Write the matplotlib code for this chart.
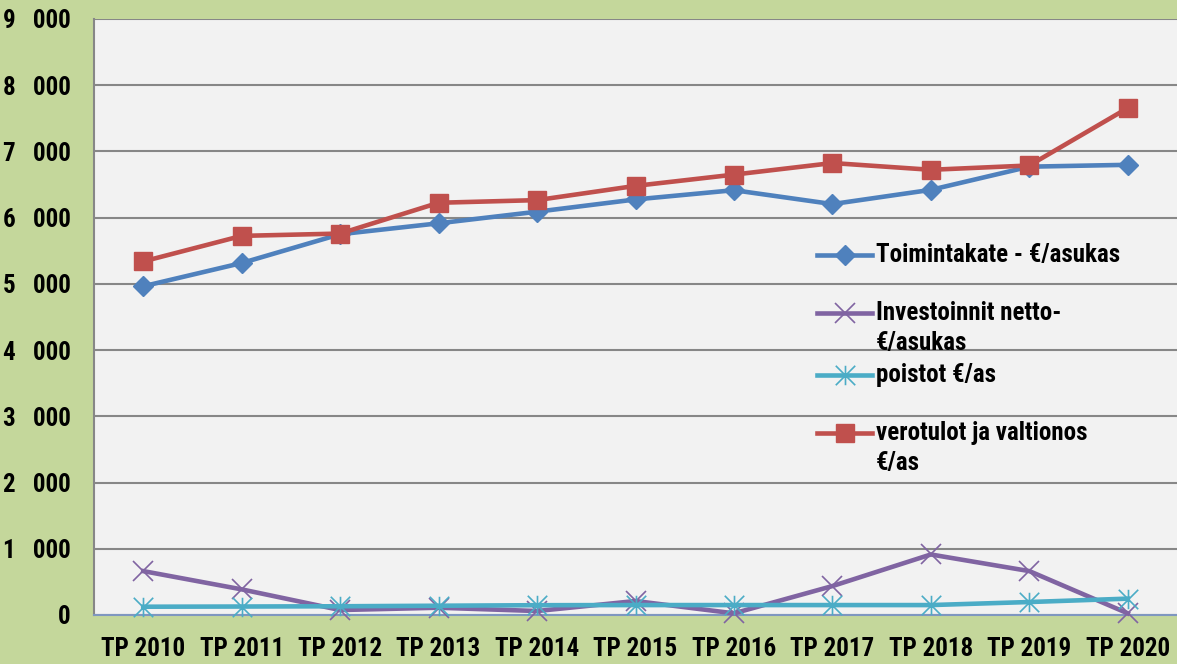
import matplotlib
matplotlib.use("Agg")
import matplotlib.pyplot as plt
from matplotlib.path import Path
import numpy as np

plt.rcParams['font.family'] = ['Liberation Sans Narrow', 'Arial Narrow', 'Roboto Condensed',
                               'DejaVu Sans']

categories = ["TP 2010", "TP 2011", "TP 2012", "TP 2013", "TP 2014", "TP 2015",
              "TP 2016", "TP 2017", "TP 2018", "TP 2019", "TP 2020"]
toimintakate = [4964, 5315, 5750, 5915, 6090, 6275, 6415, 6205, 6420, 6770, 6798]
investoinnit = [663, 387, 75, 110, 60, 211, 25, 437, 914, 663, 25]
poistot = [125, 128, 132, 140, 148, 150, 150, 150, 150, 196, 247]
verotulot = [5339, 5725, 5760, 6225, 6265, 6480, 6650, 6825, 6723, 6788, 7656]
yticks = [0, 1000, 2000, 3000, 4000, 5000, 6000, 7000, 8000, 9000]
ytick_labels = ["0", "1   000", "2   000", "3   000", "4   000", "5   000",
                "6   000", "7   000", "8   000", "9   000"]
labels = ["Toimintakate - €/asukas", "Investoinnit netto-\n€/asukas",
          "poistot €/as", "verotulot ja valtionos\n€/as"]

BLUE = "#4F81BD"
PURPLE = "#8064A2"
TEAL = "#4BACC6"
RED = "#C0504D"
BG = "#C4D79B"

# Excel-style star marker: vertical line + X
ast = Path([(0, -1), (0, 1), (-1, -1), (1, 1), (-1, 1), (1, -1)],
           [Path.MOVETO, Path.LINETO, Path.MOVETO, Path.LINETO, Path.MOVETO, Path.LINETO])

fig = plt.figure(figsize=(11.77, 6.64), dpi=100, facecolor=BG)
W, H = 1177, 664
L, R, T, B = 94, 1177, 19, 615
ax = fig.add_axes([L / W, 1 - B / H, (R - L) / W, (B - T) / H])
ax.set_facecolor("#F2F2F2")

x = np.arange(len(categories))
lw = 3.3
styles = [
    (toimintakate, BLUE, dict(marker='D', ms=9.8, mfc=BLUE, mec=BLUE)),
    (investoinnit, PURPLE, dict(marker='x', ms=14, mew=1.2, mec=PURPLE)),
    (poistot, TEAL, dict(marker=ast, ms=14, mew=1.2, mec=TEAL, mfc='none')),
    (verotulot, RED, dict(marker='s', ms=13.5, mfc=RED, mec=RED)),
]
for vals, col, mk in styles:
    ax.plot(x, vals, color=col, lw=lw, zorder=3, clip_on=False, **mk)

ax.set_xlim(-0.5, len(categories) - 0.5)
ax.set_ylim(0, 9000)
ax.set_yticks(yticks)
ax.set_yticklabels(ytick_labels)
ax.set_xticks(x)
ax.set_xticklabels(categories)
ax.yaxis.grid(True, color="#878787", lw=1.5, zorder=1)
ax.set_axisbelow(True)
for s in ['top', 'right']:
    ax.spines[s].set_visible(False)
ax.spines['left'].set_color("#878787")
ax.spines['left'].set_linewidth(1.5)
ax.spines['bottom'].set_color("#7F97C0")
ax.spines['bottom'].set_linewidth(1.5)
ax.tick_params(axis='both', length=0, labelsize=18)
ax.tick_params(axis='y', pad=17)
ax.tick_params(axis='x', pad=16)
for lab in ax.get_xticklabels() + ax.get_yticklabels():
    lab.set_fontweight('bold')

# manual legend (Excel-like, handle aligned to first text line)
leg_y = [255, 313, 375, 433]
def fx(px):
    return (px - L) / (R - L)
def fy(py):
    return (B - py) / (B - T)
for (vals, col, mk), lab, py in zip(styles, labels, leg_y):
    ax.plot([fx(817), fx(872)], [fy(py), fy(py)], color=col, lw=lw,
            transform=ax.transAxes, clip_on=False, zorder=4)
    ax.plot([fx(845)], [fy(py)], color=col, transform=ax.transAxes,
            clip_on=False, zorder=5, **mk)
    for i, line in enumerate(lab.split("\n")):
        ax.text(fx(876), fy(py + 30 * i), line, transform=ax.transAxes,
                fontsize=18, fontweight='bold', va='center', ha='left', zorder=5)

fig.savefig("out.png", dpi=100, facecolor=BG)
